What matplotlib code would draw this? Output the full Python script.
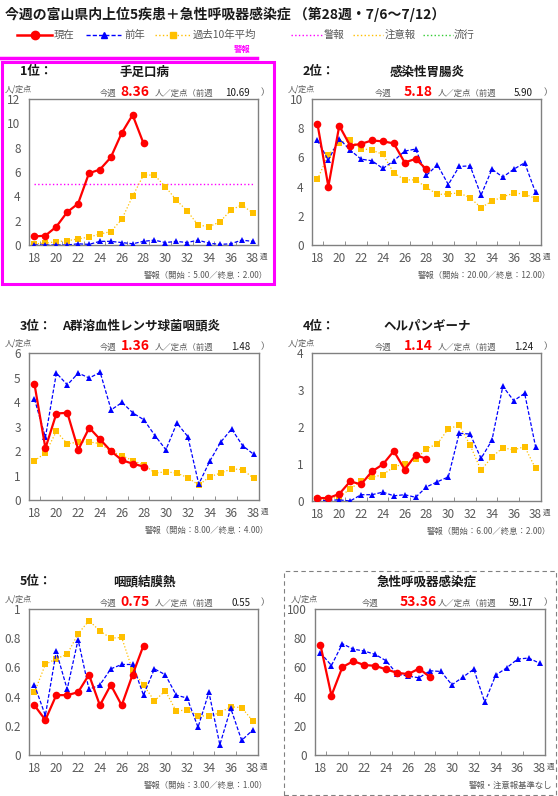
import matplotlib
matplotlib.use("Agg")
import matplotlib.pyplot as plt
from matplotlib.patches import Rectangle
from matplotlib.lines import Line2D

plt.rcParams['font.family'] = ['Noto Sans CJK JP', 'DejaVu Sans']

# ---------------- data ----------------
weeks = list(range(18, 39))
cur_weeks = list(range(18, 29))

hfmd_cur = [0.7, 0.77, 1.5, 2.7, 3.4, 5.9, 6.2, 7.2, 9.2, 10.69, 8.36]
hfmd_prev = [0.0, 0.0, 0.0, 0.0, 0.1, 0.05, 0.3, 0.3, 0.2, 0.1, 0.3, 0.4, 0.2, 0.3, 0.2, 0.4, 0.15, 0.05, 0.1, 0.4, 0.3]
hfmd_avg = [0.1, 0.15, 0.27, 0.35, 0.5, 0.65, 0.9, 1.1, 2.1, 4.0, 5.75, 5.75, 4.8, 3.7, 2.8, 1.65, 1.5, 1.9, 2.85, 3.3, 2.65]

gastro_cur = [8.3, 4.0, 8.17, 6.8, 6.93, 7.16, 7.1, 6.96, 5.65, 5.90, 5.18]
gastro_prev = [7.16, 5.8, 7.28, 6.5, 5.88, 5.77, 5.24, 5.77, 6.43, 6.57, 4.78, 5.49, 4.14, 5.38, 5.42, 3.41, 5.19, 4.65, 5.19, 5.63, 3.6]
gastro_avg = [4.5, 6.18, 6.96, 7.2, 6.6, 6.5, 6.2, 4.94, 4.46, 4.46, 3.94, 3.46, 3.5, 3.57, 3.23, 2.56, 3.0, 3.3, 3.55, 3.5, 3.18]

strep_cur = [4.73, 2.11, 3.53, 3.56, 2.05, 2.95, 2.47, 1.99, 1.62, 1.48, 1.36]
strep_prev = [4.12, 2.56, 5.18, 4.7, 5.18, 4.98, 5.21, 3.68, 3.98, 3.55, 3.27, 2.63, 2.05, 3.14, 2.59, 0.65, 1.58, 2.36, 2.9, 2.22, 1.87]
strep_avg = [1.6, 1.92, 2.8, 2.29, 2.37, 2.37, 2.3, 1.98, 1.81, 1.6, 1.43, 1.1, 1.15, 1.1, 0.91, 0.61, 0.95, 1.1, 1.27, 1.24, 0.89]

herp_cur = [0.08, 0.08, 0.19, 0.53, 0.45, 0.8, 0.99, 1.35, 0.85, 1.24, 1.14]
herp_prev = [0.0, 0.02, 0.03, 0.0, 0.17, 0.17, 0.24, 0.14, 0.17, 0.1, 0.38, 0.52, 0.65, 1.83, 1.81, 1.15, 1.64, 3.1, 2.71, 2.91, 1.47]
herp_avg = [0.05, 0.05, 0.11, 0.32, 0.55, 0.64, 0.71, 0.92, 1.01, 1.13, 1.41, 1.55, 1.95, 2.05, 1.51, 0.83, 1.19, 1.44, 1.38, 1.47, 0.88]

pcf_cur = [0.34, 0.24, 0.41, 0.41, 0.43, 0.55, 0.34, 0.48, 0.34, 0.55, 0.75]
pcf_prev = [0.48, 0.27, 0.71, 0.45, 0.79, 0.45, 0.48, 0.59, 0.62, 0.62, 0.41, 0.59, 0.55, 0.41, 0.39, 0.19, 0.43, 0.07, 0.32, 0.1, 0.17]
pcf_avg = [0.43, 0.62, 0.66, 0.69, 0.83, 0.92, 0.85, 0.8, 0.805, 0.58, 0.48, 0.37, 0.44, 0.3, 0.31, 0.27, 0.265, 0.29, 0.33, 0.325, 0.235]

ari_cur = [75.3, 40.7, 60.2, 64.3, 61.6, 61.1, 58.6, 56.3, 55.4, 59.17, 53.36]
ari_prev = [70.0, 61.3, 76.2, 72.5, 71.2, 68.9, 64.5, 55.4, 54.0, 52.9, 57.7, 57.2, 48.1, 53.3, 58.8, 36.2, 54.7, 59.7, 65.7, 66.4, 62.9]

ranks = ["1位：", "2位：", "3位：", "4位：", "5位：", ""]
names = ["手足口病", "感染性胃腸炎", "A群溶血性レンサ球菌咽頭炎", "ヘルパンギーナ", "咽頭結膜熱", "急性呼吸器感染症"]
this_week = ["8.36", "5.18", "1.36", "1.14", "0.75", "53.36"]
last_week = ["10.69", "5.90", "1.48", "1.24", "0.55", "59.17"]
notes = ["警報（開始：5.00／終息：2.00）", "警報（開始：20.00／終息：12.00）",
         "警報（開始：8.00／終息：4.00）", "警報（開始：6.00／終息：2.00）",
         "警報（開始：3.00／終息：1.00）", "警報・注意報基準なし"]
ymax = [12, 10, 6, 4, 1, 100]
ystep = [2, 2, 1, 1, 0.2, 20]
alarm_level = [5, None, None, None, None, None]

cur_series = [hfmd_cur, gastro_cur, strep_cur, herp_cur, pcf_cur, ari_cur]
prev_series = [hfmd_prev, gastro_prev, strep_prev, herp_prev, pcf_prev, ari_prev]
avg_series = [hfmd_avg, gastro_avg, strep_avg, herp_avg, pcf_avg, None]

# ---------------- layout ----------------
W, H = 558, 796
fig = plt.figure(figsize=(W / 100, H / 100), dpi=100)

def fx(x):
    return x / W

def fy(y):
    return 1 - y / H

GRAY = "#595959"
RED = "#FF0000"
BLUE = "#0000FF"
ORANGE = "#FFC000"
MAG = "#FF00FF"
GREEN = "#33CC33"

def t(x, y, s, **kw):
    kw.setdefault('va', 'center')
    fig.text(fx(x), fy(y), s, **kw)

# Title
t(5, 14, "今週の富山県内上位5疾患＋急性呼吸器感染症 （第28週・7/6～7/12）",
  fontsize=10, fontweight='bold', color="#1a1a1a")

# Legend
leg_y = 35
def leg_line(x0, x1, color, ls, lw, marker=None, ms=0):
    fig.add_artist(Line2D([fx(x0), fx(x1)], [fy(leg_y), fy(leg_y)], color=color,
                          linestyle=ls, linewidth=lw, transform=fig.transFigure))
    if marker:
        fig.add_artist(Line2D([fx((x0 + x1) / 2)], [fy(leg_y)], color=color, marker=marker,
                              markersize=ms, linestyle='none', transform=fig.transFigure))

LFS = 7.5
leg_line(17, 52, RED, '-', 1.8, 'o', 6)
t(54, leg_y, "現在", fontsize=LFS, color=GRAY)
leg_line(86, 121, BLUE, (0, (3, 1.5)), 1.0, '^', 4.5)
t(124, leg_y, "前年", fontsize=LFS, color=GRAY)
leg_line(155, 190, ORANGE, ':', 1.0, 's', 4)
t(193, leg_y, "過去10年平均", fontsize=LFS, color=GRAY)
leg_line(291, 322, MAG, ':', 1.0)
t(324, leg_y, "警報", fontsize=LFS, color=GRAY)
leg_line(353, 383, ORANGE, ':', 1.0)
t(385, leg_y, "注意報", fontsize=LFS, color=GRAY)
leg_line(423, 453, GREEN, ':', 1.0)
t(454, leg_y, "流行", fontsize=LFS, color=GRAY)
t(242, 49, "警報", fontsize=6, color=MAG, fontweight='bold', ha='center')
fig.add_artist(Line2D([0, fx(257)], [fy(58), fy(58)], color=MAG, linewidth=2.5,
                      transform=fig.transFigure))

# Panel boxes
fig.add_artist(Rectangle((fx(2), fy(284)), fx(272), 222 / H, fill=False, edgecolor=MAG,
                         linewidth=2.2, transform=fig.transFigure))
fig.add_artist(Rectangle((fx(284), fy(795)), fx(272), 224 / H, fill=False, edgecolor="#808080",
                         linewidth=0.8, linestyle=(0, (4, 3)), transform=fig.transFigure))

# axes rectangles (left, top, right, bottom) in pixels
rects = [(29, 99, 258, 245), (312, 99, 541, 245),
         (29, 353, 259, 500), (312, 353, 541, 501),
         (29, 609, 258, 755), (315, 609, 545, 755)]

for i in range(6):
    l, tp, r, b = rects[i]
    ax = fig.add_axes([fx(l), fy(b), (r - l) / W, (b - tp) / H])
    ax.set_xlim(17.5, 38.5)
    ax.set_ylim(0, ymax[i])
    for sp in ax.spines.values():
        sp.set_color("#808080")
        sp.set_linewidth(1.0)
    n = int(round(ymax[i] / ystep[i]))
    yt = [round(k * ystep[i], 4) for k in range(n + 1)]
    ax.set_yticks(yt)
    ax.set_yticklabels([f"{v:g}" for v in yt])
    ax.set_xticks(list(range(18, 39, 2)))
    ax.set_xticks([w + 0.5 for w in range(18, 38, 2)], minor=True)
    ax.tick_params(axis='x', which='major', length=0, pad=5, labelsize=8.5, labelcolor=GRAY)
    ax.tick_params(axis='x', which='minor', direction='in', length=3, color="#808080")
    ax.tick_params(axis='y', length=0, pad=6, labelsize=8.5, labelcolor=GRAY)

    if alarm_level[i] is not None:
        ax.plot([18, 38], [alarm_level[i]] * 2, color=MAG, linestyle=':', linewidth=1.0, zorder=1)
    if avg_series[i] is not None:
        ax.plot(weeks, avg_series[i], color=ORANGE, linestyle=':', linewidth=0.9,
                marker='s', markersize=3.8, markeredgewidth=0, zorder=2)
    ax.plot(weeks, prev_series[i], color=BLUE, linestyle=(0, (3, 1.5)), linewidth=0.9,
            marker='^', markersize=4.5, markeredgewidth=0, zorder=3)
    ax.plot(cur_weeks, cur_series[i], color=RED, linestyle='-', linewidth=1.6,
            marker='o', markersize=5.5, markeredgewidth=0, zorder=4)

    # texts around panel
    ox = 0 if i % 2 == 0 else 283
    title_y = tp - 27
    if ranks[i]:
        t(ox + 20, title_y, ranks[i], fontsize=9, fontweight='bold', color="#1a1a1a")
    if i == 2:
        t(62, title_y, names[i], fontsize=9, fontweight='bold', color="#1a1a1a")
    else:
        t(ox + 144, title_y, names[i], fontsize=9, fontweight='bold', color="#1a1a1a", ha='center')
    # unit
    t(l - 24, tp - 10, "人/定点", fontsize=5.8, color=GRAY)
    # this week
    rowy = tp - 6
    base = ox
    if i == 5:
        kx = 362
    elif i % 2 == 0:
        kx = 100
    else:
        kx = 375
    t(kx, rowy, "今週", fontsize=6, color=GRAY)
    t(base + 135, rowy - 1, this_week[i], fontsize=10, color=RED, ha='center', fontweight='semibold')
    t(base + 155, rowy, "人／定点（前週", fontsize=6, color=GRAY)
    t(base + 250, rowy, last_week[i], fontsize=7, color="#1a1a1a", ha='right')
    t(base + 261, rowy, "）", fontsize=6.5, color=GRAY)
    # week unit and note
    t(r + 2, b + 12, "週", fontsize=5.5, color=GRAY)
    t(r + 10 if i != 5 else 552, b + 30, notes[i], fontsize=6, color=GRAY, ha='right')

fig.savefig("out.png", dpi=100)
